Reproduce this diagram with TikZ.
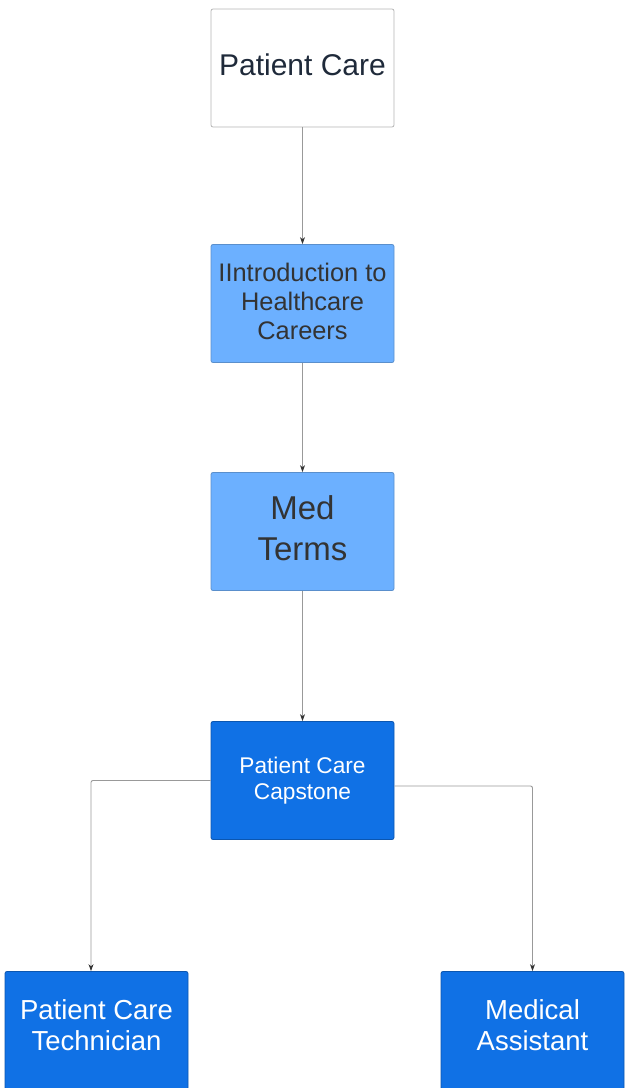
\documentclass[tikz,border=0pt]{standalone}
\usepackage{fontspec}
\setmainfont{Liberation Sans}
\usetikzlibrary{arrows.meta}
\definecolor{lightblue}{HTML}{6CB0FF}
\definecolor{darkblue}{HTML}{1071E5}
\definecolor{lightborder}{HTML}{5A8FCC}
\definecolor{darkborder}{HTML}{0B56B0}
\definecolor{greyborder}{HTML}{B5B5B5}
\definecolor{connector}{HTML}{999999}
\definecolor{textdark}{HTML}{333333}
\definecolor{textnavy}{HTML}{1F2A3A}
\begin{document}
\begin{tikzpicture}[x=1pt,y=-1pt,
  box/.style={rectangle, rounded corners=2pt, minimum width=183pt, minimum height=118pt, inner sep=0pt, line width=0.8pt},
  whitebox/.style={box, draw=greyborder, fill=white},
  lightbox/.style={box, draw=lightborder, fill=lightblue},
  darkbox/.style={box, draw=darkborder, fill=darkblue},
  label/.style={inner sep=0pt, align=center},
  conn/.style={draw=connector, line width=0.9pt, rounded corners=2pt, -{Stealth[length=7pt,width=5pt,color=textdark]}}
]
\useasboundingbox (0,0) rectangle (625,1088);
\node[whitebox] (top) at (302.5,68) {};
\node[lightbox] (intro) at (302.5,303.5) {};
\node[lightbox] (med) at (302.5,531.5) {};
\node[darkbox] (cap) at (302.5,780.5) {};
\node[darkbox] (pct) at (96.5,1030.5) {};
\node[darkbox] (ma) at (532.5,1030.5) {};
\node[label, text=textnavy, font=\fontsize{30}{36}\selectfont] (topT) at ([yshift=3pt]top.center) {Patient Care};
\node[label, text=textdark, font=\fontsize{25.4}{29}\selectfont] (introT) at ([yshift=2pt]intro.center) {IIntroduction to\\ Healthcare\\ Careers};
\node[label, text=textdark, font=\fontsize{33}{41}\selectfont] (medT) at ([yshift=3.5pt]med.center) {Med\\ Terms};
\node[label, text=white, font=\fontsize{22.7}{26}\selectfont] (capT) at (cap.center) {Patient Care\\ Capstone};
\node[label, text=white, font=\fontsize{27.5}{31}\selectfont] (pctT) at ([yshift=5pt]pct.center) {Patient Care\\ Technician};
\node[label, text=white, font=\fontsize{27.5}{31}\selectfont] (maT) at ([yshift=5pt]ma.center) {Medical\\ Assistant};
\coordinate (pctin) at ([xshift=-5.5pt]pct.north);
\coordinate (capright) at ([yshift=-5.5pt]cap.east);
\draw[conn] (top.south) -- (intro.north);
\draw[conn] (intro.south) -- (med.north);
\draw[conn] (med.south) -- (cap.north);
\draw[conn] (cap.west) -| (pctin);
\draw[conn] (capright) -| (ma.north);
\end{tikzpicture}
\end{document}
